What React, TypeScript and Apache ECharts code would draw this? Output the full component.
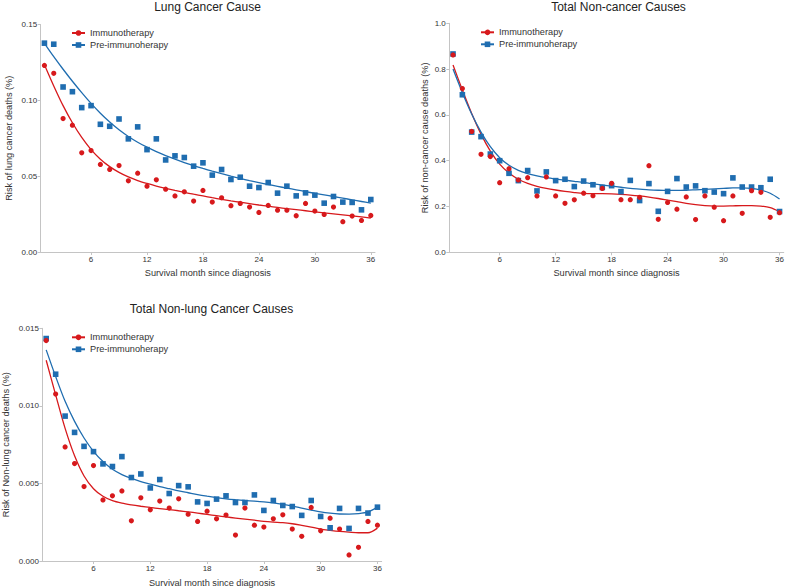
import React, { useEffect, useRef } from "react";
import * as echarts from "echarts";

// ---------- data ----------
const months = [1, 2, 3, 4, 5, 6, 7, 8, 9, 10, 11, 12, 13, 14, 15, 16, 17, 18, 19, 20, 21, 22, 23, 24, 25, 26, 27, 28, 29, 30, 31, 32, 33, 34, 35, 36];
const xTickValues = [6, 12, 18, 24, 30, 36];
const seriesNames = ["Immunotherapy", "Pre-immunoherapy"];

// Lung Cancer Cause
const lungImmuno = [0.123, 0.1178, 0.088, 0.0836, 0.0654, 0.0669, 0.0577, 0.0544, 0.057, 0.0469, 0.052, 0.0434, 0.0476, 0.0414, 0.037, 0.0397, 0.0336, 0.0406, 0.0329, 0.0357, 0.0305, 0.032, 0.0296, 0.0261, 0.0307, 0.0276, 0.0276, 0.0239, 0.032, 0.027, 0.0248, 0.0296, 0.02, 0.0237, 0.0208, 0.0241];
const lungPre = [0.1377, 0.137, 0.1088, 0.1057, 0.0952, 0.0965, 0.0842, 0.0829, 0.0877, 0.0746, 0.0825, 0.0675, 0.0746, 0.0607, 0.0634, 0.0623, 0.0566, 0.0588, 0.0507, 0.0544, 0.0478, 0.0493, 0.0434, 0.0425, 0.0458, 0.0388, 0.0434, 0.037, 0.039, 0.0375, 0.0322, 0.0366, 0.0329, 0.0327, 0.0278, 0.0346];
const lungImmunoFit = [0.1235, 0.1095, 0.0965, 0.0852, 0.0755, 0.0675, 0.0612, 0.0563, 0.0525, 0.0495, 0.0471, 0.0452, 0.0435, 0.042, 0.0406, 0.0393, 0.0381, 0.037, 0.0358, 0.0347, 0.0337, 0.0328, 0.0319, 0.031, 0.0302, 0.0294, 0.0286, 0.0279, 0.0272, 0.0265, 0.0258, 0.0252, 0.0245, 0.0238, 0.0231, 0.0224];
const lungPreFit = [0.1376, 0.1288, 0.1205, 0.1126, 0.1051, 0.098, 0.0915, 0.0857, 0.0806, 0.0762, 0.0724, 0.0691, 0.0662, 0.0636, 0.0612, 0.059, 0.057, 0.0551, 0.0533, 0.0516, 0.05, 0.0485, 0.0471, 0.0458, 0.0445, 0.0433, 0.0421, 0.041, 0.0398, 0.0387, 0.0377, 0.0366, 0.0355, 0.0344, 0.0333, 0.0322];

// Total Non-cancer Causes
const ncImmuno = [0.862, 0.715, 0.528, 0.428, 0.418, 0.304, 0.365, 0.316, 0.326, 0.246, 0.329, 0.246, 0.214, 0.229, 0.258, 0.247, 0.279, 0.301, 0.23, 0.23, 0.24, 0.378, 0.144, 0.218, 0.188, 0.242, 0.143, 0.246, 0.197, 0.138, 0.246, 0.17, 0.269, 0.262, 0.153, 0.173];
const ncPre = [0.866, 0.688, 0.525, 0.505, 0.429, 0.4, 0.345, 0.313, 0.357, 0.268, 0.351, 0.313, 0.319, 0.287, 0.311, 0.295, 0.283, 0.291, 0.265, 0.314, 0.226, 0.3, 0.179, 0.266, 0.322, 0.285, 0.29, 0.269, 0.263, 0.256, 0.325, 0.285, 0.285, 0.282, 0.319, 0.178];
const ncImmunoFit = [0.818, 0.709, 0.606, 0.516, 0.442, 0.385, 0.346, 0.319, 0.301, 0.288, 0.279, 0.272, 0.266, 0.261, 0.257, 0.256, 0.256, 0.255, 0.253, 0.25, 0.246, 0.241, 0.235, 0.228, 0.221, 0.214, 0.208, 0.204, 0.202, 0.202, 0.203, 0.204, 0.204, 0.202, 0.195, 0.177];
const ncPreFit = [0.8, 0.697, 0.604, 0.525, 0.461, 0.413, 0.38, 0.358, 0.344, 0.334, 0.326, 0.32, 0.315, 0.31, 0.305, 0.299, 0.294, 0.289, 0.284, 0.279, 0.276, 0.273, 0.271, 0.27, 0.27, 0.271, 0.273, 0.275, 0.277, 0.279, 0.281, 0.281, 0.279, 0.272, 0.258, 0.233];

// Total Non-lung Cancer Causes
const nlImmuno = [0.01421, 0.01076, 0.00735, 0.00628, 0.0048, 0.00615, 0.00394, 0.0042, 0.00452, 0.00259, 0.00407, 0.0033, 0.00386, 0.00341, 0.00401, 0.00302, 0.00255, 0.00321, 0.00272, 0.00296, 0.00167, 0.00341, 0.00231, 0.00219, 0.00272, 0.00298, 0.00206, 0.00159, 0.00345, 0.00195, 0.00276, 0.00206, 0.00039, 0.00088, 0.00255, 0.00231];
const nlPre = [0.01434, 0.01204, 0.00934, 0.00829, 0.00739, 0.00705, 0.00626, 0.00609, 0.00673, 0.00538, 0.00561, 0.00471, 0.00525, 0.00435, 0.00486, 0.00478, 0.00381, 0.00371, 0.00399, 0.0042, 0.00377, 0.00377, 0.00426, 0.00326, 0.0039, 0.00358, 0.00351, 0.00294, 0.0039, 0.00287, 0.00214, 0.00339, 0.0021, 0.00339, 0.00309, 0.00347];
const nlImmunoFit = [0.01294, 0.01071, 0.00855, 0.00678, 0.00548, 0.00466, 0.00417, 0.00389, 0.00373, 0.00362, 0.00353, 0.00345, 0.00338, 0.00331, 0.00324, 0.00317, 0.00309, 0.003, 0.00292, 0.00284, 0.00277, 0.0027, 0.00263, 0.00256, 0.00251, 0.00247, 0.0024, 0.0023, 0.00219, 0.00206, 0.00198, 0.00191, 0.00186, 0.00182, 0.00182, 0.00212];
const nlPreFit = [0.01361, 0.01189, 0.01029, 0.009, 0.00793, 0.00707, 0.00641, 0.00591, 0.00557, 0.00532, 0.00512, 0.00496, 0.0048, 0.00466, 0.00452, 0.0044, 0.00428, 0.00418, 0.00409, 0.00401, 0.00395, 0.0039, 0.00386, 0.00381, 0.00374, 0.00365, 0.00354, 0.00341, 0.00328, 0.00316, 0.00308, 0.00303, 0.00302, 0.00305, 0.00316, 0.00348];

// ---------- style / layout ----------
const RED = "#d7191c";
const BLUE = "#1f6db0";
const AXIS = "#c4c4c4";
const TEXT = "#333333";
const FONT = "'Liberation Sans', Arial, Helvetica, sans-serif";

const panels = [
  {
    title: "Lung Cancer Cause",
    yName: "Risk of lung cancer deaths (%)",
    yMax: 0.15, yInterval: 0.05, decimals: 2,
    grid: { left: 40.7, top: 24.5, width: 334.3, height: 227.5 },
    titleX: 207.5, titleY: 6.5,
    legend: { left: 71, top: 28.5 },
    yGap: 26.8, xGap: 16.4,
    immuno: lungImmuno, pre: lungPre, immunoFit: lungImmunoFit, preFit: lungPreFit,
  },
  {
    title: "Total Non-cancer Causes",
    yName: "Risk of non-cancer cause deaths (%)",
    yMax: 1.0, yInterval: 0.2, decimals: 1,
    grid: { left: 449.3, top: 23.3, width: 337.7, height: 229 },
    titleX: 618.5, titleY: 6.5,
    legend: { left: 480, top: 27.8 },
    yGap: 19.7, xGap: 16.4,
    immuno: ncImmuno, pre: ncPre, immunoFit: ncImmunoFit, preFit: ncPreFit,
  },
  {
    title: "Total Non-lung Cancer Causes",
    yName: "Risk of Non-lung cancer deaths (%)",
    yMax: 0.015, yInterval: 0.005, decimals: 3,
    grid: { left: 40.7, top: 328.3, width: 341, height: 233.4 },
    titleX: 211.5, titleY: 308.5,
    legend: { left: 71, top: 332.8 },
    yGap: 32.4, xGap: 17,
    immuno: nlImmuno, pre: nlPre, immunoFit: nlImmunoFit, preFit: nlPreFit,
  },
];

function pairs(xs: number[], ys: number[]) {
  return xs.map((x, i) => [x, ys[i]]);
}

function buildOption() {
  const grids: any[] = [];
  const xAxes: any[] = [];
  const yAxes: any[] = [];
  const series: any[] = [];
  const legends: any[] = [];
  const graphics: any[] = [];

  panels.forEach((p, i) => {
    grids.push({ ...p.grid, containLabel: false });
    xAxes.push({
      type: "value",
      gridIndex: i,
      min: 0.6,
      max: 36.45,
      name: "Survival month since diagnosis",
      nameLocation: "middle",
      nameGap: p.xGap,
      nameTextStyle: { fontSize: 9.2, color: TEXT, fontFamily: FONT },
      axisLine: { show: true, onZero: false, lineStyle: { color: AXIS, width: 1 } },
      axisTick: { show: true, customValues: xTickValues, length: 3, lineStyle: { color: AXIS } },
      axisLabel: { customValues: xTickValues, fontSize: 8, color: TEXT, margin: 3, fontFamily: FONT },
      splitLine: { show: false },
    });
    yAxes.push({
      type: "value",
      gridIndex: i,
      min: 0,
      max: p.yMax,
      interval: p.yInterval,
      name: p.yName,
      nameLocation: "middle",
      nameGap: p.yGap,
      nameTextStyle: { fontSize: 9.2, color: TEXT, fontFamily: FONT },
      axisLine: { show: true, lineStyle: { color: AXIS, width: 1 } },
      axisTick: { show: true, length: 3, lineStyle: { color: AXIS } },
      axisLabel: {
        fontSize: 8,
        color: TEXT,
        margin: 3.5,
        fontFamily: FONT,
        formatter: (v: number) => v.toFixed(p.decimals),
      },
      splitLine: { show: false },
    });
    series.push(
      {
        type: "line",
        name: seriesNames[0],
        xAxisIndex: i,
        yAxisIndex: i,
        data: pairs(months, p.immunoFit),
        symbol: "circle",
        showSymbol: false,
        smooth: 0.3,
        color: RED,
        itemStyle: { color: RED },
        lineStyle: { color: RED, width: 1.3 },
        z: 2,
      },
      {
        type: "line",
        name: seriesNames[1],
        xAxisIndex: i,
        yAxisIndex: i,
        data: pairs(months, p.preFit),
        symbol: "rect",
        showSymbol: false,
        smooth: 0.3,
        color: BLUE,
        itemStyle: { color: BLUE },
        lineStyle: { color: BLUE, width: 1.3 },
        z: 2,
      }
    );
    legends.push({
      left: p.legend.left,
      top: p.legend.top,
      orient: "vertical",
      padding: 0,
      itemWidth: 13,
      itemHeight: 7,
      itemGap: 3,
      textStyle: { fontSize: 9.2, color: TEXT, fontFamily: FONT },
      data: seriesNames,
      selectedMode: false,
    });
    graphics.push({
      type: "text",
      x: p.titleX,
      y: p.titleY,
      style: {
        text: p.title,
        fill: "#222222",
        fontSize: 12,
        fontWeight: "normal",
        fontFamily: FONT,
        align: "center",
        verticalAlign: "middle",
        textAlign: "center",
        textVerticalAlign: "middle",
      },
    });
  });

  panels.forEach((p, i) => {
    series.push(
      {
        type: "scatter",
        name: seriesNames[1],
        xAxisIndex: i,
        yAxisIndex: i,
        data: pairs(months, p.pre),
        symbol: "rect",
        symbolSize: 5.6,
        itemStyle: { color: BLUE, opacity: 1 },
        z: 3,
      },
      {
        type: "scatter",
        name: seriesNames[0],
        xAxisIndex: i,
        yAxisIndex: i,
        data: pairs(months, p.immuno),
        symbol: "circle",
        symbolSize: 5.2,
        itemStyle: { color: RED, opacity: 1 },
        z: 4,
      }
    );
  });

  return {
    animation: false,
    backgroundColor: "#ffffff",
    textStyle: { fontFamily: FONT },
    grid: grids,
    xAxis: xAxes,
    yAxis: yAxes,
    legend: legends,
    series,
    graphic: graphics,
  };
}

export default function App() {
  const ref = useRef<HTMLDivElement>(null);
  useEffect(() => {
    document.body.style.margin = "0";
    if (!ref.current) return;
    const chart = echarts.init(ref.current, undefined, { renderer: "svg" });
    chart.setOption(buildOption());
    return () => chart.dispose();
  }, []);
  return (
    <div
      ref={ref}
      style={{ position: "absolute", left: 0, top: 0, width: 787, height: 588, background: "#fff" }}
    />
  );
}
